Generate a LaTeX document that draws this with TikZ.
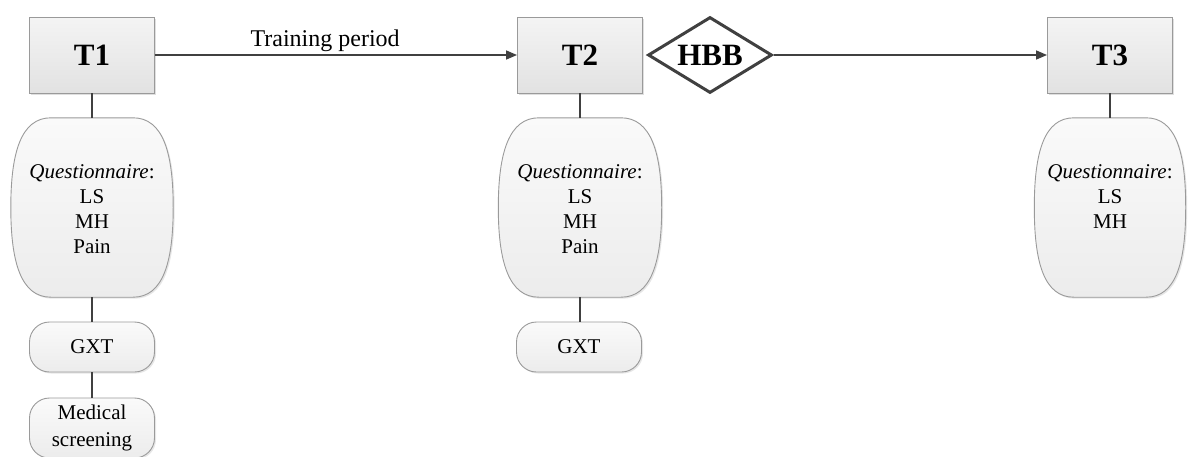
\documentclass[tikz,border=0pt]{standalone}
\usepackage{fontspec}
\setmainfont{Liberation Serif}
\usetikzlibrary{arrows.meta,shapes.geometric,shadows}
\definecolor{lineC}{HTML}{404040}
\definecolor{edgeC}{HTML}{9A9A9A}
\definecolor{boxTop}{HTML}{F4F4F4}
\definecolor{boxBot}{HTML}{E2E2E2}
\definecolor{qTop}{HTML}{FAFAFA}
\definecolor{qBot}{HTML}{ECECEC}
\tikzset{
  tbox/.style={rectangle, draw=edgeC, line width=0.9pt, top color=boxTop, bottom color=boxBot,
    minimum width=125pt, minimum height=76pt, inner sep=0pt,
    font=\fontsize{31}{34}\selectfont\bfseries,
    drop shadow={shadow xshift=1.5pt, shadow yshift=-1.5pt, opacity=0.25}},
  pill/.style={rectangle, rounded corners=20pt, draw=edgeC, line width=0.9pt, top color=qTop, bottom color=qBot,
    minimum width=125pt, minimum height=50pt, inner sep=0pt, align=center,
    font=\fontsize{21}{27}\selectfont,
    drop shadow={shadow xshift=1.5pt, shadow yshift=-1.5pt, opacity=0.2}},
  qarea/.style={rectangle, minimum height=179pt, inner sep=0pt},
  qtext/.style={anchor=north, inner sep=0pt, align=center, font=\fontsize{21}{25}\selectfont},
  qfill/.style={draw=edgeC, line width=0.9pt, top color=qTop, bottom color=qBot,
    drop shadow={shadow xshift=1.5pt, shadow yshift=-1.5pt, opacity=0.2}},
  conn/.style={draw=lineC, line width=1.5pt},
  arr/.style={conn, -{Triangle[length=11pt,width=9pt]}},
  hbb/.style={diamond, aspect=1.63, draw=lineC, line width=3pt, fill=white, minimum width=124pt, minimum height=76pt,
    inner sep=0pt, font=\fontsize{31}{34}\selectfont\bfseries},
  lbl/.style={font=\fontsize{24}{28}\selectfont, inner sep=3pt}
}
\newcommand\barrelshape[2]{% node name, straight half-length
  \path[qfill] ([xshift=-#2]#1.north) -- ([xshift=#2]#1.north)
    .. controls ([xshift=#2+30pt]#1.north) and ([yshift=55pt]#1.east) .. (#1.east)
    .. controls ([yshift=-55pt]#1.east) and ([xshift=#2+30pt]#1.south) .. ([xshift=#2]#1.south)
    -- ([xshift=-#2]#1.south)
    .. controls ([xshift=-#2-30pt]#1.south) and ([yshift=-55pt]#1.west) .. (#1.west)
    .. controls ([yshift=55pt]#1.west) and ([xshift=-#2-30pt]#1.north) .. cycle;}
\begin{document}
\begin{tikzpicture}[x=1pt,y=-1pt]
\useasboundingbox (0,0) rectangle (1192,456);
% top row
\node[tbox] (t1) at (92,55) {T1};
\node[tbox] (t2) at (580,55) {T2};
\node[hbb] (hbb) at (710,55) {HBB};
\node[tbox] (t3) at (1110,55) {T3};
% questionnaire areas
\node[qarea, minimum width=162pt] (q1) at (92,207.5) {};
\node[qarea, minimum width=163pt] (q2) at (580,207.5) {};
\node[qarea, minimum width=151pt] (q3) at (1110,207.5) {};
\barrelshape{q1}{41pt}
\barrelshape{q2}{41pt}
\barrelshape{q3}{36pt}
\node[qtext] (q1t) at (92,164) {\textit{Questionnaire}:\\LS\\MH\\Pain};
\node[qtext] (q2t) at (580,164) {\textit{Questionnaire}:\\LS\\MH\\Pain};
\node[qtext] (q3t) at (1110,164) {\textit{Questionnaire}:\\LS\\MH};
% lower boxes
\node[pill] (g1) at (92,347) {GXT};
\node[pill] (g2) at (579,347) {GXT};
\node[pill, minimum height=60pt] (med) at (92,428) {Medical\\screening};
% connectors
\draw[arr] (t1.east) -- node[lbl, above, pos=0.47] (tp) {Training period} (t2.west);
\draw[arr] (hbb.east) -- (t3.west);
\draw[conn] (t1.south) -- (q1.north);
\draw[conn] (q1.south) -- (g1.north);
\draw[conn] (g1.south) -- (med.north);
\draw[conn] (t2.south) -- (q2.north);
\draw[conn] (q2.south) -- (q2.south |- g2.north);
\draw[conn] (t3.south) -- (q3.north);
\end{tikzpicture}
\end{document}
